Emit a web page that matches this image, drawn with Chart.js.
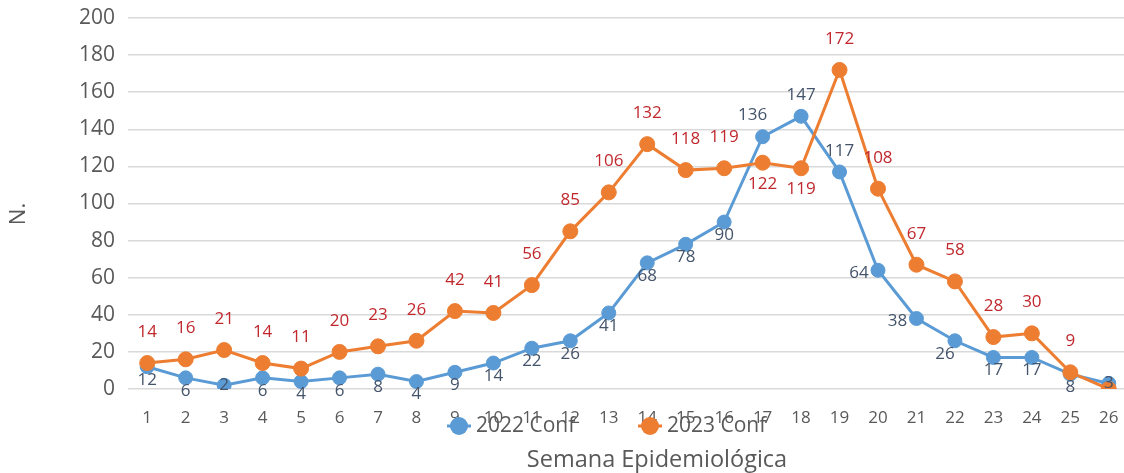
<!DOCTYPE html>
<html><head><meta charset="utf-8">
<script src="https://cdn.jsdelivr.net/npm/chart.js@4.4.1/dist/chart.umd.min.js"></script>
<style>
html,body{margin:0;padding:0;background:#fff;overflow:hidden;width:1124px;height:473px}
#wrap{position:relative;width:1140px;height:473px}
</style>
</head><body><div id="wrap"><canvas id="c" width="1140" height="473"></canvas></div>
<script>
// ---- data ----
const weeks = ['1','2','3','4','5','6','7','8','9','10','11','12','13','14','15','16','17','18','19','20','21','22','23','24','25','26'];
const conf2022 = [12,6,2,6,4,6,8,4,9,14,22,26,41,68,78,90,136,147,117,64,38,26,17,17,8,3];
const conf2023 = [14,16,21,14,11,20,23,26,42,41,56,85,106,132,118,119,122,119,172,108,67,58,28,30,9,0];
const seriesNames = ['2022 Conf','2023 Conf'];
const yTickValues = [0,20,40,60,80,100,120,140,160,180,200];
const xTitleText = 'Semana Epidemiológica';
const yTitleText = 'N.';

// ---- styling ----
const FONT = '"Open Sans", "Liberation Sans", sans-serif';
const TXT = '#595959';
const BLUE = '#5B9BD5', ORANGE = '#ED7D31';
const labelColors = ['#44546A', '#C0282D'];
// label placement per point: a=above, al=above-left, b=below, l=left, bl=below-left, c=center, n=none
const place2022 = ['b','b','c','b','b','b','b','b','b','b','b','b','b','b','b','b','al','a','a','l','l','bl','b','b','b','c'];
const place2023 = ['a','a','a','a','a','a','a','a','a','a','a','a','a','a','a','a','b','b','a','a','a','a','a','a','a','n'];
const offsets = [
  {a:[0,-21], al:[-10,-22], b:[0,13], l:[-19,3], bl:[-10,13], c:[0,0]},
  {a:[0,-31], al:[-10,-31], b:[0,21], l:[-19,0], bl:[-10,20], c:[0,0]}
];
const legendItemX = [447, 638];

const pointLabels = {
  id: 'pointLabels',
  afterDatasetsDraw(chart) {
    const ctx = chart.ctx;
    ctx.save();
    ctx.font = '17px ' + FONT;
    ctx.textAlign = 'center';
    ctx.textBaseline = 'middle';
    [place2022, place2023].forEach((pl, di) => {
      const meta = chart.getDatasetMeta(di);
      const vals = chart.data.datasets[di].data;
      ctx.fillStyle = labelColors[di];
      meta.data.forEach((pt, i) => {
        const p = pl[i];
        if (p === 'n') return;
        const o = offsets[di][p];
        ctx.fillText(String(vals[i]), pt.x + o[0], pt.y + o[1]);
      });
    });
    ctx.restore();
  }
};

const customLegendAndTitles = {
  id: 'customLegendAndTitles',
  afterDraw(chart) {
    const ctx = chart.ctx;
    ctx.save();
    ctx.font = '21px ' + FONT;
    ctx.textBaseline = 'middle';
    ctx.textAlign = 'left';
    const colors = [BLUE, ORANGE];
    const y = 426;
    seriesNames.forEach((name, i) => {
      const x = legendItemX[i];
      ctx.strokeStyle = colors[i]; ctx.lineWidth = 3;
      ctx.beginPath(); ctx.moveTo(x, y); ctx.lineTo(x + 24, y); ctx.stroke();
      ctx.fillStyle = colors[i];
      ctx.beginPath(); ctx.arc(x + 12, y, 9, 0, Math.PI * 2); ctx.fill();
      ctx.fillStyle = TXT;
      ctx.fillText(name, x + 29, y);
    });
    ctx.font = '23.5px ' + FONT;
    ctx.textAlign = 'center';
    ctx.fillText(xTitleText, 657, 460);
    ctx.font = '22px ' + FONT;
    ctx.translate(19, 214);
    ctx.rotate(-Math.PI / 2);
    ctx.fillText(yTitleText, 0, 0);
    ctx.restore();
  }
};

new Chart(document.getElementById('c'), {
  type: 'line',
  data: {
    labels: weeks,
    datasets: [
      { label: seriesNames[0], data: conf2022, borderColor: BLUE, backgroundColor: BLUE,
        borderWidth: 3, pointRadius: 7, pointBorderWidth: 1, pointBackgroundColor: BLUE, pointBorderColor: BLUE,
        tension: 0, order: 1 },
      { label: seriesNames[1], data: conf2023, borderColor: ORANGE, backgroundColor: ORANGE,
        borderWidth: 3, pointRadius: 7.5, pointBorderWidth: 1, pointBackgroundColor: ORANGE, pointBorderColor: ORANGE,
        tension: 0, order: 0 }
    ]
  },
  options: {
    responsive: false,
    devicePixelRatio: 1,
    animation: false,
    layout: { padding: { left: 0, right: 12, top: 18, bottom: 0 } },
    plugins: { legend: { display: false }, tooltip: { enabled: false } },
    scales: {
      x: {
        offset: true,
        grid: { display: false, drawTicks: false },
        border: { display: false },
        ticks: { color: TXT, font: { family: FONT, size: 17 }, padding: 19, maxRotation: 0, autoSkip: false },
        afterFit(s) { s.height = 84; }
      },
      y: {
        min: 0, max: 200,
        afterBuildTicks(s) { s.ticks = yTickValues.map(v => ({ value: v })); },
        grid: { color: '#D9D9D9', lineWidth: 1.5, drawTicks: false },
        border: { display: false },
        ticks: { color: TXT, font: { family: FONT, size: 21 }, padding: 13 },
        title: { display: false },
        afterFit(s) { s.width = 128; s.paddingTop = 0; s.paddingBottom = 0; }
      }
    }
  },
  plugins: [pointLabels, customLegendAndTitles]
});
</script>
</body></html>
